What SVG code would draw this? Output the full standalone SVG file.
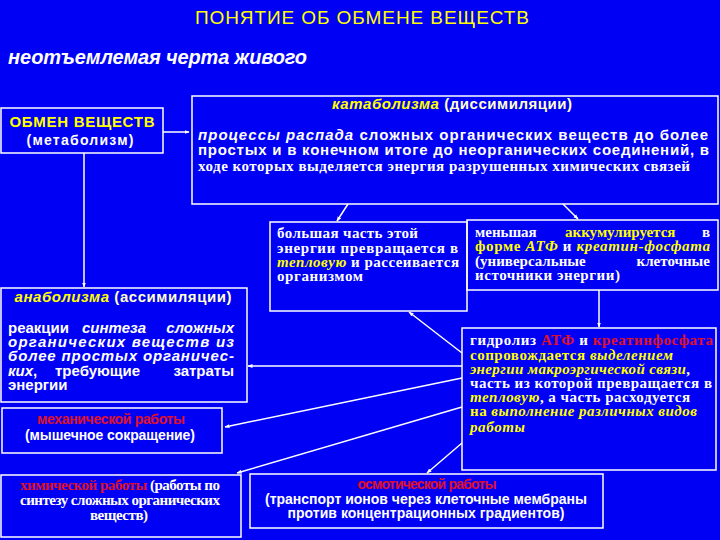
<svg xmlns="http://www.w3.org/2000/svg" width="720" height="540" viewBox="0 0 720 540">
<defs>
<marker id="ah" viewBox="0 0 10 10" refX="9" refY="5" markerWidth="5" markerHeight="5" orient="auto" markerUnits="userSpaceOnUse">
<path d="M0,1 L10,5 L0,9 z" fill="#ffffff"/>
</marker>
<style>
.box{fill:none;stroke:#ffffff;stroke-width:1.5}
.ln{stroke:#ffffff;stroke-width:1.5;fill:none;marker-end:url(#ah)}
.sans{font-family:"Liberation Sans",Arial,sans-serif;font-weight:bold}
.serif{font-family:"Liberation Serif","Times New Roman",serif;font-weight:bold}
.w{fill:#ffffff}
.y{fill:#ffff00}
.py{fill:#ffffcc}
.r{fill:#e0102a}
.it{font-style:italic}
</style>
</defs>
<rect width="720" height="540" fill="#0000f5"/>
<g id="title">
<text x="362" y="24" font-family="'Liberation Sans', Arial, sans-serif" font-size="19" fill="#ffff00" text-anchor="middle" textLength="334">ПОНЯТИЕ ОБ ОБМЕНЕ ВЕЩЕСТВ</text>
<text class="sans w it" x="8" y="64" font-size="20" textLength="299">неотъемлемая черта живого</text>
</g>
<g id="metabolism">
<rect class="box" x="1" y="108" width="162" height="45"/>
<text class="sans y" x="82" y="127" font-size="15" text-anchor="middle" textLength="145">ОБМЕН ВЕЩЕСТВ</text>
<text class="sans w" x="80" y="145" font-size="14" text-anchor="middle" textLength="107">(метаболизм)</text>
</g>
<g id="catabolism">
<rect class="box" x="192" y="96" width="526" height="108"/>
<text class="sans" x="452" y="109" font-size="15" text-anchor="middle" textLength="240"><tspan class="y it">катаболизма</tspan><tspan class="py"> (диссимиляции)</tspan></text>
<text class="sans w" x="198" y="140" font-size="15" textLength="510"><tspan class="it">процессы распада</tspan> сложных органических веществ до более</text>
<text class="sans w" x="198" y="155" font-size="15" textLength="511">простых и в конечном итоге до неорганических соединений, в</text>
<text class="serif w" x="198" y="171" font-size="15" textLength="492">ходе которых выделяется энергия разрушенных химических связей</text>
</g>
<g id="heat">
<rect class="box" x="270" y="222" width="197" height="89"/>
<text class="serif w" x="277" y="238" font-size="15" textLength="141">большая часть этой</text>
<text class="serif w" x="277" y="253" font-size="15" textLength="181">энергии превращается в</text>
<text class="serif w" x="277" y="267" font-size="15" textLength="182"><tspan class="y it">тепловую</tspan> и рассеивается</text>
<text class="serif w" x="277" y="281" font-size="15" textLength="86">организмом</text>
</g>
<g id="atp">
<rect class="box" x="467" y="220" width="251" height="70"/>
<text class="serif w" x="475" y="237" font-size="15">меньшая</text>
<text class="serif y" x="565" y="237" font-size="15">аккумулируется</text>
<text class="serif w" x="710" y="237" font-size="15" text-anchor="end">в</text>
<text class="serif w" x="475" y="251" font-size="15" textLength="235"><tspan class="y">форме </tspan><tspan class="y it">АТФ</tspan> и <tspan class="y it">креатин-фосфата</tspan></text>
<text class="serif w" x="475" y="266" font-size="15">(универсальные</text>
<text class="serif w" x="710" y="266" font-size="15" text-anchor="end">клеточные</text>
<text class="serif w" x="475" y="280" font-size="15" textLength="145">источники энергии)</text>
</g>
<g id="anabolism">
<rect class="box" x="1" y="288" width="246" height="114"/>
<text class="sans" x="123" y="302" font-size="15" text-anchor="middle" textLength="217"><tspan class="y it">анаболизма</tspan><tspan class="py"> (ассимиляции)</tspan></text>
<text class="sans w" x="8" y="333" font-size="15">реакции</text>
<text class="sans w it" x="82" y="333" font-size="15">синтеза</text>
<text class="sans w it" x="234" y="333" font-size="15" text-anchor="end">сложных</text>
<text class="sans w it" x="8" y="347" font-size="15" textLength="226">органических веществ из</text>
<text class="sans w it" x="8" y="361" font-size="15" textLength="226">более простых органичес-</text>
<text class="sans w" x="8" y="376" font-size="15"><tspan class="it">ких</tspan>,</text>
<text class="sans w" x="55" y="376" font-size="15">требующие</text>
<text class="sans w" x="234" y="376" font-size="15" text-anchor="end">затраты</text>
<text class="sans w" x="8" y="390" font-size="15">энергии</text>
</g>
<g id="hydrolysis">
<rect class="box" x="462" y="328" width="254" height="142"/>
<text class="serif w" x="470" y="345" font-size="15" textLength="243">гидролиз <tspan class="r">АТФ</tspan> и <tspan class="r">креатинфосфата</tspan></text>
<text class="serif y" x="470" y="360" font-size="15" textLength="203">сопровождается <tspan class="it">выделением</tspan></text>
<text class="serif y it" x="470" y="374" font-size="15" textLength="220">энергии макроэргической связи<tspan class="w" font-style="normal">,</tspan></text>
<text class="serif w" x="470" y="388" font-size="15" textLength="242">часть из которой превращается в</text>
<text class="serif w" x="470" y="402" font-size="15" textLength="220"><tspan class="y it">тепловую</tspan>, а часть расходуется</text>
<text class="serif y" x="470" y="416" font-size="15" textLength="227">на <tspan class="it">выполнение различных видов</tspan></text>
<text class="serif y it" x="470" y="432" font-size="15" textLength="55">работы</text>
</g>
<g id="mechanical">
<rect class="box" x="2" y="408" width="220" height="45"/>
<text class="sans r" x="111" y="424" font-size="14" text-anchor="middle" textLength="148">механической работы</text>
<text class="sans w" x="110" y="440" font-size="14" text-anchor="middle" textLength="170">(мышечное сокращение)</text>
</g>
<g id="chemical">
<rect class="box" x="1" y="475" width="240" height="62"/>
<text class="serif w" x="120" y="490" font-size="15" text-anchor="middle" textLength="200"><tspan class="r">химической работы</tspan> (работы по</text>
<text class="serif w" x="120" y="505" font-size="15" text-anchor="middle" textLength="200">синтезу сложных органических</text>
<text class="serif w" x="119" y="520" font-size="15" text-anchor="middle" textLength="58">веществ)</text>
</g>
<g id="osmotic">
<rect class="box" x="250" y="474" width="353" height="54"/>
<text class="sans r" x="427" y="489" font-size="14" text-anchor="middle" textLength="139">осмотической работы</text>
<text class="sans w" x="426" y="504" font-size="14" text-anchor="middle" textLength="322">(транспорт ионов через клеточные мембраны</text>
<text class="sans w" x="426" y="518" font-size="14" text-anchor="middle" textLength="277">против концентрационных градиентов)</text>
</g>
<g id="connectors">
<line class="ln" x1="163" y1="132" x2="189" y2="132"/>
<line class="ln" x1="84" y1="153" x2="84" y2="287"/>
<line class="ln" x1="348" y1="204" x2="337" y2="221"/>
<line class="ln" x1="563" y1="204" x2="578" y2="219"/>
<line class="ln" x1="599" y1="290" x2="599" y2="327"/>
<line class="ln" x1="462" y1="353" x2="409" y2="312"/>
<line class="ln" x1="462" y1="366" x2="248" y2="366"/>
<line class="ln" x1="462" y1="378" x2="225" y2="427"/>
<line class="ln" x1="462" y1="407" x2="237" y2="473"/>
<line class="ln" x1="462" y1="443" x2="427" y2="473"/>
</g>
</svg>
